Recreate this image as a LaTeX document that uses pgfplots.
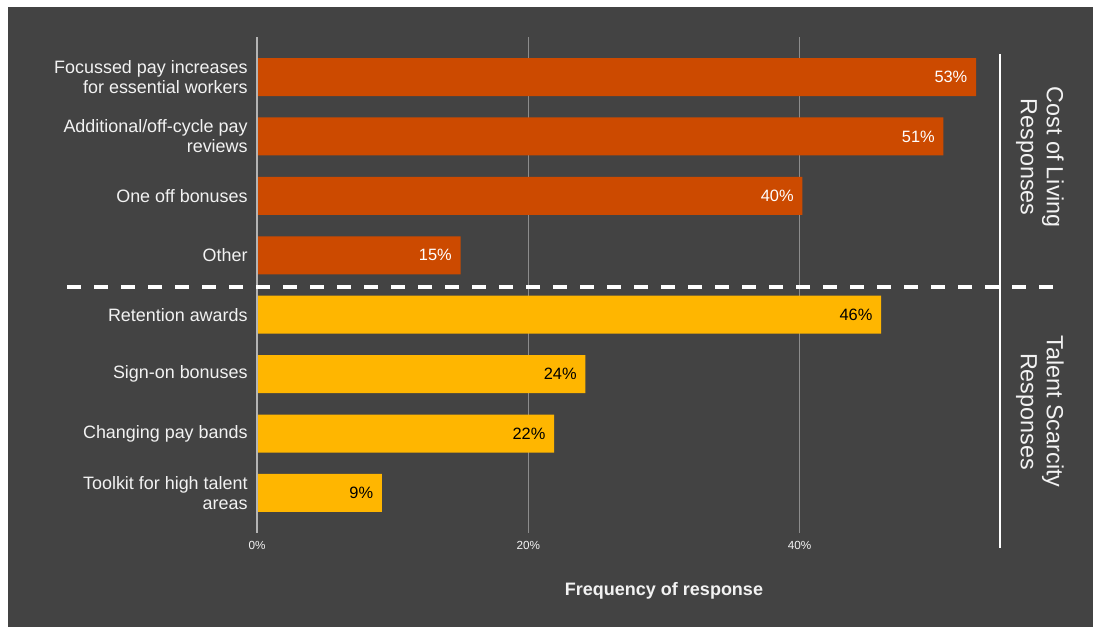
\documentclass[border=0pt]{standalone}
\usepackage{fontspec}
\setmainfont{Liberation Sans}
\usepackage{pgfplots}
\pgfplotsset{compat=1.18}
\definecolor{bgdark}{HTML}{434343}
\definecolor{orng}{HTML}{CC4A00}
\definecolor{yell}{HTML}{FFB600}
\definecolor{gridc}{HTML}{8C8C8C}
\definecolor{zeroc}{HTML}{B4B4B4}
\definecolor{txt}{HTML}{F2F2F2}
\begin{document}
\begin{tikzpicture}
\path[use as bounding box, fill=white] (0,0) rectangle (820.5pt,470.25pt);
\fill[bgdark] (6pt,0) rectangle (819.75pt,465pt);
\begin{axis}[
  at={(192.75pt,70.5pt)}, anchor=south west,
  scale only axis, width=610.5pt, height=372pt,
  xmin=0, xmax=60, ymin=-0.675, ymax=7.675,
  clip=false,
  xbar, bar width=28.5pt, bar shift=0pt,
  axis line style={draw=none}, tick style={draw=none},
  xtick={0,20,40}, xticklabels={0\%,20\%,40\%},
  xmajorgrids, grid style={gridc, line width=0.9pt},
  xticklabel style={font=\fontsize{8.8}{10}\selectfont, text=txt, yshift=-3pt},
  ytick={0,...,7},
  yticklabels={{Toolkit for high talent\\areas},{Changing pay bands},{Sign-on bonuses},{Retention awards},{Other},{One off bonuses},{Additional/off-cycle pay\\reviews},{Focussed pay increases\\for essential workers}},
  yticklabel style={font=\fontsize{13.45}{15}\selectfont, text=txt, align=right, xshift=0.75pt},
  xlabel={\bfseries Frequency of response},
  xlabel style={font=\fontsize{13.5}{16}\selectfont, text=txt, at={(rel axis cs:0.5,0)}, anchor=center, yshift=-43.5pt},
  /pgf/number format/assume math mode=true,
  point meta=x,
  nodes near coords={\pgfmathprintnumber[fixed,precision=0]{\pgfplotspointmeta}\%},
  nodes near coords style={anchor=east, xshift=-3pt, font=\fontsize{12.3}{14}\selectfont},
]
\addplot[fill=orng, draw=none, every node near coord/.append style={text=white}] coordinates {(53,7) (50.6,6) (40.2,5) (15,4)};
\addplot[fill=yell, draw=none, every node near coord/.append style={text=black}] coordinates {(46,3) (24.2,2) (21.9,1) (9.2,0)};
\draw[zeroc, line width=1.2pt] (axis cs:0,-0.675) -- (axis cs:0,7.675);
\draw[white, line width=1.5pt] (axis cs:54.8,7.39) -- (axis cs:54.8,-0.93);
\draw[white, line width=3pt, dash pattern=on 10.5pt off 9.75pt] (axis cs:-14,3.46) -- (axis cs:59.15,3.46);
\node[rotate=-90, align=center, text=txt, font=\fontsize{17.5}{19.5}\selectfont] at (axis cs:57.7,5.65) {Cost of Living\\Responses};
\node[rotate=-90, align=center, text=txt, font=\fontsize{17.5}{19.5}\selectfont] at (axis cs:57.7,1.37) {Talent Scarcity\\Responses};
\end{axis}
\end{tikzpicture}
\end{document}
